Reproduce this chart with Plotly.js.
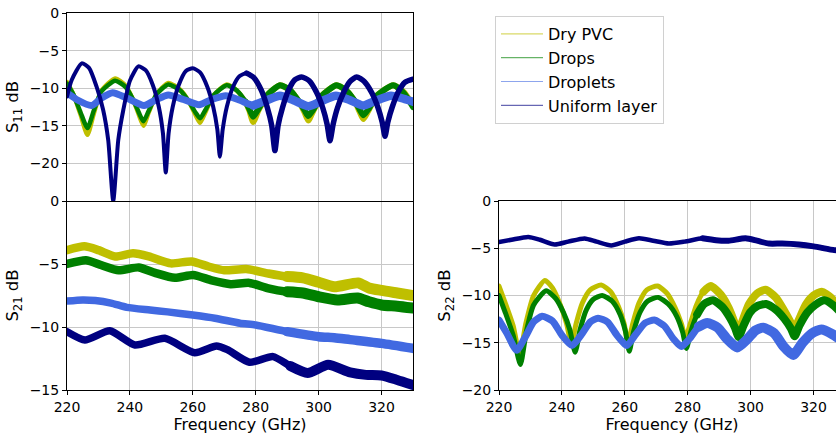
<!DOCTYPE html>
<html><head><meta charset="utf-8">
<script src="https://cdn.plot.ly/plotly-3.0.1.min.js"></script>
<style>html,body{margin:0;padding:0;overflow:hidden;background:#fff}#chart{width:850px;height:439px}</style>
</head><body><div id="chart"></div>
<script>
const seriesNames = ['Dry PVC', 'Drops', 'Droplets', 'Uniform layer'];
const seriesColors = ['#bfbf00', '#008000', '#4169e1', '#000080'];
const freqTicks = [220, 240, 260, 280, 300, 320];

// ---- S11 (top-left) ----
const s11DryF = [220,222,224.3,226.5,228.5,231,235.3,238.5,241,242.8,244.3,246,248.5,252.2,256,258.8,260.8,262.3,264,266.5,270.8,274,276.8,278,279.2,280.8,283.5,287.7,291,294,295.5,296.7,298.2,301,305.7,309,311.8,313,314.2,315.8,318.5,323.7,327,330];
const s11DryV = [-9.2,-10.8,-13.5,-16.2,-13.4,-10.3,-8.7,-9.6,-11.5,-13.5,-15.0,-13.2,-10.8,-9.3,-10.2,-11.8,-13.5,-14.6,-13.2,-11,-9.5,-10.3,-11.8,-13,-14.5,-13,-11,-9.6,-10.3,-12,-13.2,-14.3,-13.1,-11,-9.6,-10.4,-12,-13.1,-14.1,-13,-11,-9.6,-10.5,-12.3];
const s11DropsF = s11DryF;
const s11DropsV = [-9.4,-10.8,-13.2,-15.3,-13,-10.4,-9.0,-9.8,-11.5,-13.2,-14.4,-13,-10.8,-9.5,-10.3,-11.8,-13.2,-14.0,-12.9,-11,-9.6,-10.3,-11.8,-12.8,-13.8,-12.8,-11,-9.6,-10.3,-11.9,-12.9,-13.7,-12.9,-11,-9.6,-10.4,-11.9,-12.8,-13.6,-12.8,-11,-9.6,-10.6,-12.5];
const s11DropletsF = [220,223.5,227.8,231,234.5,239,244.5,248.5,252.2,257,262,266,270.5,275,279.2,283.5,287.7,292,296.7,301,305.5,310,314.2,318.5,323,327,330];
const s11DropletsV = [-10.6,-11.6,-12.3,-11.3,-10.6,-11.3,-12.3,-11.5,-10.9,-11.5,-12.2,-11.5,-11.0,-11.6,-12.3,-11.6,-11.0,-11.6,-12.4,-11.7,-11.0,-11.6,-12.3,-11.6,-11.0,-11.4,-11.8];
const s11UniformF = [220,221.5,224.7,227,229.4,231.5,233.1,234.7,236.3,237.9,240,242.7,245,247.3,249.2,250.5,251.4,252.3,253.6,255.5,257.8,260,262.3,264.6,266.5,267.8,268.6,269.5,270.8,272.8,274.8,277.1,279.4,281.8,283.7,285.1,286.1,287.1,288.5,290.4,292.4,294.6,297,299.4,301.3,302.7,303.6,304.6,306,307.9,310,312.1,314.5,316.9,318.8,320.2,321.1,322,323.4,325.3,327.5,330];
const s11UniformV = [-11.1,-8.9,-6.7,-7.3,-9.8,-12.9,-16.9,-25,-16.9,-12.9,-9.0,-7.1,-7.6,-9.6,-12.5,-16,-21.2,-16,-12.5,-9.6,-7.7,-7.35,-7.9,-9.8,-12.5,-15.5,-19.1,-15.5,-12.5,-9.8,-8.4,-8.0,-8.6,-10.3,-12.6,-15,-18.3,-15,-12.6,-10.3,-8.9,-8.5,-9.0,-10.6,-12.6,-14.8,-17.0,-14.8,-12.6,-10.6,-9.1,-8.5,-9.1,-10.6,-12.5,-14.5,-16.4,-14.5,-12.5,-10.5,-9.2,-8.8];

// ---- S21 (bottom-left) ----
const s21DryF = [220,225.5,230,235.3,241,246,253,259.6,265,270,277,284,290,295,300,305,312.5,316,320,325,330];
const s21DryV = [-3.9,-3.6,-3.9,-4.4,-4.15,-4.4,-4.95,-4.8,-5.2,-5.5,-5.4,-5.75,-6.0,-6.1,-6.45,-6.8,-6.5,-6.9,-7.1,-7.3,-7.5];
const s21DropsF = [220,226,231,236.4,242.8,248,254.3,260.1,266,272,278,284,290,295,300,306,312.4,316,320,325,330];
const s21DropsV = [-5.0,-4.7,-5.1,-5.5,-5.27,-5.7,-6.1,-5.87,-6.3,-6.6,-6.5,-6.93,-7.2,-7.3,-7.6,-7.86,-7.7,-8.0,-8.25,-8.35,-8.5];
const s21DropletsF = [220,225,229,234,239,246.4,252,260,267,275,280,290,300,305,310,320,330];
const s21DropletsV = [-7.94,-7.85,-7.9,-8.1,-8.44,-8.65,-8.8,-9.05,-9.3,-9.7,-9.84,-10.37,-10.77,-10.85,-11.0,-11.3,-11.7];
const s21UniformF = [220,225.7,233.6,241.6,251.1,260.6,267.5,271,278,285.5,291,296.5,303,310,315,320,325,330];
const s21UniformV = [-10.37,-11.03,-10.3,-11.43,-10.9,-12.04,-11.5,-11.8,-12.8,-12.35,-13.1,-13.65,-13.0,-13.6,-13.8,-13.85,-14.2,-14.6];

// ---- S22 (bottom-right) ----
const s22DryF = [220,222,224.5,226.6,228.5,231,234.6,237,239.5,241.5,243,244.5,246.5,249,252.5,255.5,258,259.8,261,262.5,264.5,267,270.4,273.5,276,278,279.3,280.8,282.8,285,287.3,290.5,293,294.8,296,297.5,299.5,302,304.7,308,310.5,312.5,313.8,315.3,317.5,320,322.6,325.5,328,330];
const s22DryV = [-9.0,-10.8,-13.2,-16.3,-13,-10.0,-8.4,-9.2,-11,-13,-15.1,-13,-10.8,-9.4,-8.9,-9.6,-11.2,-13,-15.0,-13,-10.8,-9.4,-9.0,-9.8,-11.3,-13,-14.5,-13,-11,-9.6,-9.0,-9.9,-11.3,-12.8,-14,-12.6,-10.9,-9.8,-9.4,-10.2,-11.5,-12.7,-13.6,-12.6,-11,-10,-9.6,-10.2,-11.3,-12.5];
const s22DropsF = [220,222,224.5,226.8,228.7,231,235,238,240.5,242.5,244.2,245.8,247.8,250,252.8,256,258.5,260.2,261.4,262.8,264.8,267.2,270.6,273.8,276.5,278.4,279.6,281,283,285.2,288,291,293.5,295,296.2,297.6,299.8,302.2,304.9,308,310.8,312.8,314,315.5,318,320.5,323.5,326.5,329,330];
const s22DropsV = [-10.0,-11.8,-14.2,-17.3,-13.8,-11,-9.5,-10.3,-11.8,-13.6,-16.0,-13.6,-11.5,-10.4,-10.0,-10.6,-12,-13.8,-15.9,-13.8,-11.8,-10.6,-10.2,-10.9,-12.2,-13.9,-15.6,-13.8,-12,-10.9,-10.5,-11.2,-12.4,-13.4,-14.4,-13.3,-11.8,-11.1,-10.9,-11.5,-12.5,-13.5,-14.3,-13.2,-11.8,-11,-10.5,-11.1,-12,-12.5];
const s22DropletsF = [220,222.5,225.6,228.5,231,233.7,237,240,243.2,246.5,249,251.5,254.5,257.5,260.6,263.5,266.5,269.4,272.5,275.5,278,281,283.5,286.2,289.5,292.5,295.7,299,301.5,304,307.5,310.5,313.5,316.5,319.5,322.5,326,330];
const s22DropletsV = [-12.6,-14,-15.8,-14.3,-12.8,-12.2,-12.7,-14.2,-15.3,-14,-12.8,-12.4,-12.8,-14.2,-15.3,-14.1,-12.9,-12.6,-13.2,-14.6,-15.4,-14.4,-13.3,-12.9,-13.4,-14.6,-15.5,-14.6,-13.7,-13.4,-14,-15.4,-16.3,-15,-14,-13.6,-14.1,-15];
const s22UniformF = [220,224,229.3,233,237.7,242,247.2,251,255.7,260,264.5,269,274,279,284.7,289,293,298.4,302,305.8,310,315.3,320,326.6,330];
const s22UniformV = [-4.34,-4.1,-3.8,-4.1,-4.6,-4.3,-3.96,-4.3,-4.7,-4.3,-3.95,-4.2,-4.5,-4.3,-3.95,-4.15,-4.2,-3.95,-4.2,-4.5,-4.5,-4.6,-4.8,-5.2,-5.3];

// Style: each series drawn at a base width, then its upper-frequency part re-drawn a bit wider
// (the measured bands get noisier towards high frequency).
const panels = [
  {xa: 'x2', ya: 'y2', split: 276, low: [4.5, 4.5, 7, 4], high: [6, 6, 8.5, 5.5],
   data: [[s11DryF, s11DryV], [s11DropsF, s11DropsV], [s11DropletsF, s11DropletsV], [s11UniformF, s11UniformV]]},
  {xa: 'x', ya: 'y', split: 286, low: [8.5, 8.5, 7.5, 7.5], high: [11, 11, 9.5, 10],
   data: [[s21DryF, s21DryV], [s21DropsF, s21DropsV], [s21DropletsF, s21DropletsV], [s21UniformF, s21UniformV]]},
  {xa: 'x3', ya: 'y3', split: 283, low: [5, 5, 7, 4.5], high: [8, 8, 10, 6],
   data: [[s22DryF, s22DryV], [s22DropsF, s22DropsV], [s22DropletsF, s22DropletsV], [s22UniformF, s22UniformV]]}
];

const traces = [];
panels.forEach(p => {
  p.data.forEach((d, i) => {
    const f = d[0], v = d[1];
    let k = f.findIndex(x => x >= p.split);
    if (k < 0) k = f.length - 1;
    traces.push({x: f, y: v, xaxis: p.xa, yaxis: p.ya, type: 'scatter', mode: 'lines',
      line: {color: seriesColors[i], width: p.low[i], shape: 'spline', smoothing: 0.6},
      showlegend: false, hoverinfo: 'skip'});
    traces.push({x: f.slice(k), y: v.slice(k), xaxis: p.xa, yaxis: p.ya, type: 'scatter', mode: 'lines',
      line: {color: seriesColors[i], width: p.high[i], shape: 'spline', smoothing: 0.6},
      showlegend: false, hoverinfo: 'skip'});
  });
});
seriesNames.forEach((n, i) => {
  traces.push({x: [null], y: [null], xaxis: 'x', yaxis: 'y', type: 'scatter', mode: 'lines', name: n,
    line: {color: seriesColors[i], width: 1.2}, opacity: 0.6, showlegend: true});
});

const W = 850, H = 439;
const axCommon = {showline: true, linecolor: '#000', linewidth: 1, mirror: true, showgrid: true,
  gridcolor: '#c8c8c8', gridwidth: 1, zeroline: false, ticks: 'outside', ticklen: 4, tickcolor: '#000',
  automargin: false, tickfont: {size: 14, color: '#000'}};
const xTitle = {text: 'Frequency (GHz)', font: {size: 16, color: '#000'}, standoff: 4};
const yTitleFont = {size: 16.5, color: '#000'};

const layout = {
  width: W, height: H, margin: {l: 0, r: 0, t: 0, b: 0},
  paper_bgcolor: '#fff', plot_bgcolor: '#fff',
  font: {family: 'DejaVu Sans', size: 14, color: '#000'},
  showlegend: true,
  legend: {x: 495 / W, y: 1 - 16 / H, xanchor: 'left', yanchor: 'top', bgcolor: '#fff',
    bordercolor: '#d0d0d0', borderwidth: 1, font: {size: 16, color: '#000'}, itemwidth: 42},
  xaxis: Object.assign({}, axCommon, {domain: [67 / W, 413 / W], anchor: 'y', range: [220, 330], tickvals: freqTicks, mirror: false, title: xTitle}),
  yaxis: Object.assign({}, axCommon, {domain: [1 - 390 / H, 1 - 201 / H], anchor: 'x', range: [-15, 0], tickvals: [0, -5, -10, -15],
    title: {text: 'S<sub>21</sub> dB', font: yTitleFont, standoff: 6}}),
  xaxis2: Object.assign({}, axCommon, {domain: [67 / W, 413 / W], anchor: 'y2', range: [220, 330], tickvals: freqTicks, matches: 'x', showticklabels: false, ticks: ''}),
  yaxis2: Object.assign({}, axCommon, {domain: [1 - 201 / H, 1 - 13 / H], anchor: 'x2', range: [-25, 0], tickvals: [0, -5, -10, -15, -20],
    title: {text: 'S<sub>11</sub> dB', font: yTitleFont, standoff: 6}}),
  xaxis3: Object.assign({}, axCommon, {domain: [499 / W, 845 / W], anchor: 'y3', range: [220, 330], tickvals: freqTicks, title: xTitle}),
  yaxis3: Object.assign({}, axCommon, {domain: [1 - 390 / H, 1 - 201 / H], anchor: 'x3', range: [-20, 0], tickvals: [0, -5, -10, -15, -20],
    title: {text: 'S<sub>22</sub> dB', font: yTitleFont, standoff: 6}})
};

Plotly.newPlot('chart', traces, layout, {displayModeBar: false, staticPlot: true}).then(() => {
  document.querySelectorAll('.scatterlayer path.js-line').forEach(el => {
    el.style.strokeLinecap = 'round';
    el.style.strokeLinejoin = 'round';
  });
});
</script></body></html>
